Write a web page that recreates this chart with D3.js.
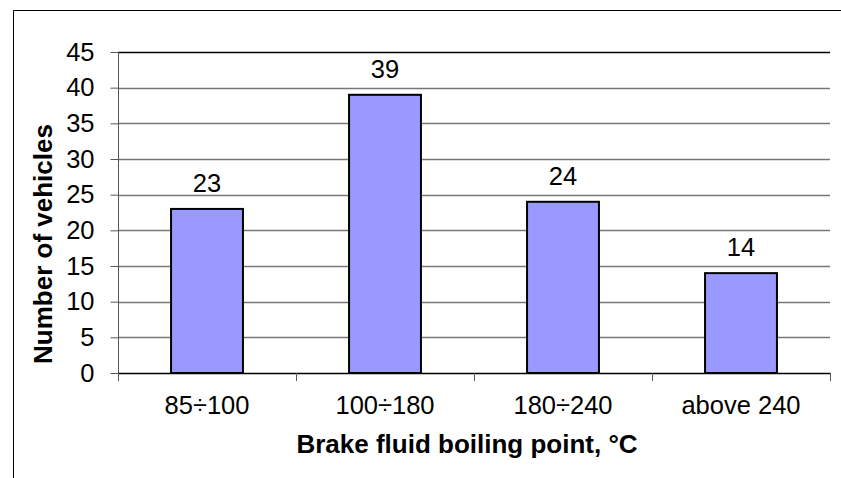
<!DOCTYPE html>
<html>
<head>
<meta charset="utf-8">
<script src="https://cdn.jsdelivr.net/npm/d3@7"></script>
<style>
  body { margin: 0; background: #fff; }
  svg { display: block; font-family: "Liberation Sans", Arial, sans-serif; }
</style>
</head>
<body>
<div id="chart"></div>
<script>
// data
var categories = ["85÷100", "100÷180", "180÷240", "above 240"];
var vehicles = [23, 39, 24, 14];
var yTicks = [0, 5, 10, 15, 20, 25, 30, 35, 40, 45];

var width = 841;
var height = 478;
var margin = { top: 52, right: 11, bottom: 105, left: 118 };
var fontSize = "25.5px";
var titleSize = "26px";

var svg = d3.select("#chart").append("svg")
  .attr("width", width)
  .attr("height", height);

// chart frame (only left and top show)
svg.append("path")
  .attr("d", "M13.5," + height + "V10.5H" + width)
  .attr("fill", "none")
  .attr("stroke", "#000")
  .attr("stroke-width", 1);

var x = d3.scaleBand()
  .domain(categories)
  .range([margin.left, width - margin.right])
  .paddingInner(0.596)
  .paddingOuter(0.298);

var xTickScale = d3.scaleBand()
  .domain(categories)
  .range([margin.left, width - margin.right]);

var y = d3.scaleLinear()
  .domain([0, 45])
  .range([height - margin.bottom, margin.top]);

// gridlines
svg.append("g")
  .selectAll("line")
  .data(yTicks.filter(function(d) { return d > 0; }))
  .enter()
  .append("line")
  .attr("x1", margin.left)
  .attr("x2", width - margin.right)
  .attr("y1", function(d) { return Math.round(y(d)) + 0.5; })
  .attr("y2", function(d) { return Math.round(y(d)) + 0.5; })
  .attr("stroke", function(d) { return d === 45 ? "#000" : "#777"; })
  .attr("stroke-width", 1.3);

// y axis
var axisY = d3.axisLeft(y).tickValues(yTicks).tickSize(8).tickPadding(16);
var gy = svg.append("g")
  .attr("transform", "translate(" + (margin.left + 0.5) + ",0)")
  .call(axisY);
gy.select(".domain").attr("stroke", "#555").attr("d", "M0," + y(0) + "V" + y(45));
gy.selectAll(".tick line").attr("stroke", "#555");
gy.selectAll(".tick text")
  .attr("font-size", fontSize)
  .attr("fill", "#000")
  .attr("font-family", "Liberation Sans, Arial, sans-serif");

// x axis (ticks between categories)
var bounds = categories.map(function(c) { return xTickScale(c); });
bounds.push(width - margin.right);
var gx = svg.append("g");
gx.append("line")
  .attr("x1", margin.left)
  .attr("x2", width - margin.right)
  .attr("y1", Math.round(y(0)) + 0.5)
  .attr("y2", Math.round(y(0)) + 0.5)
  .attr("stroke", "#000")
  .attr("stroke-width", 1.3);
gx.selectAll(".xt")
  .data(bounds)
  .enter()
  .append("line")
  .attr("x1", function(d) { return Math.round(d) + 0.5; })
  .attr("x2", function(d) { return Math.round(d) + 0.5; })
  .attr("y1", y(0))
  .attr("y2", y(0) + 8)
  .attr("stroke", "#555");
gx.selectAll("text")
  .data(categories)
  .enter()
  .append("text")
  .attr("x", function(d) { return xTickScale(d) + xTickScale.bandwidth() / 2; })
  .attr("y", 414)
  .attr("text-anchor", "middle")
  .attr("font-size", fontSize)
  .text(function(d) { return d; });

// bars
svg.append("g")
  .selectAll("rect")
  .data(vehicles)
  .enter()
  .append("rect")
  .attr("x", function(d, i) { return x(categories[i]); })
  .attr("y", function(d) { return y(d); })
  .attr("width", x.bandwidth())
  .attr("height", function(d) { return y(0) - y(d); })
  .attr("fill", "#9999FF")
  .attr("stroke", "#000")
  .attr("stroke-width", 2);

// value labels
svg.append("g")
  .selectAll("text")
  .data(vehicles)
  .enter()
  .append("text")
  .attr("x", function(d, i) { return x(categories[i]) + x.bandwidth() / 2; })
  .attr("y", function(d) { return y(d) - 17; })
  .attr("text-anchor", "middle")
  .attr("font-size", fontSize)
  .text(function(d) { return d; });

// axis titles
svg.append("text")
  .attr("x", 467)
  .attr("y", 453)
  .attr("text-anchor", "middle")
  .attr("font-size", titleSize)
  .attr("font-weight", "bold")
  .text("Brake fluid boiling point, °C");

svg.append("text")
  .attr("transform", "rotate(-90)")
  .attr("x", -244)
  .attr("y", 52)
  .attr("text-anchor", "middle")
  .attr("font-size", titleSize)
  .attr("font-weight", "bold")
  .text("Number of vehicles");
</script>
</body>
</html>
